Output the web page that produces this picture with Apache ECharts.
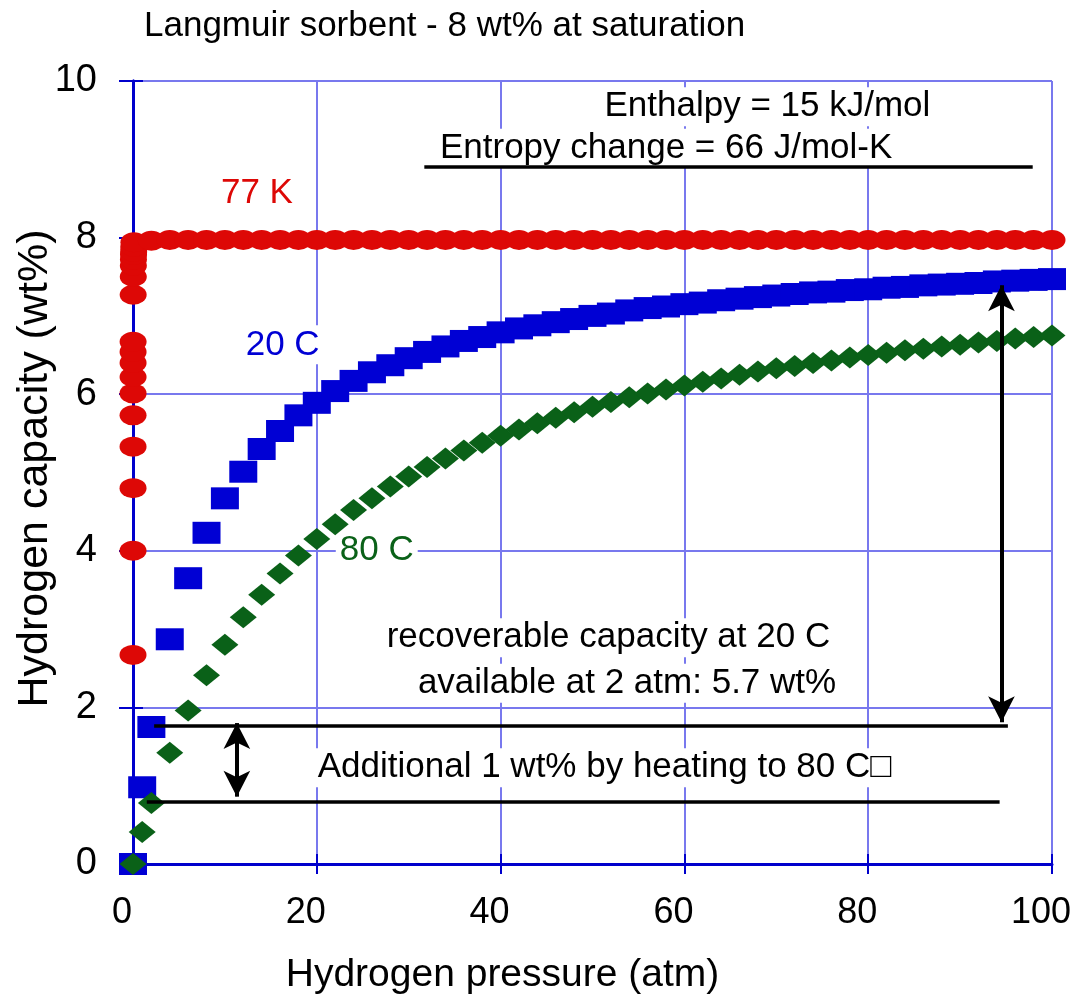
<!DOCTYPE html>
<html><head><meta charset="utf-8">
<script src="https://cdn.jsdelivr.net/npm/echarts@6/dist/echarts.min.js"></script>
<style>html,body{margin:0;padding:0;background:#fff}#c{width:1079px;height:999px}</style>
</head><body><div id="c"></div>
<script>
// ---- data ----
const pressure = [0,1,2,4,6,8,10,12,14,16,18,20,22,24,26,28,30,32,34,36,38,40,42,44,46,48,50,52,54,56,58,60,62,64,66,68,70,72,74,76,78,80,82,84,86,88,90,92,94,96,98,100];
const cap20C = [0,0.98,1.75,2.87,3.65,4.23,4.67,5.01,5.30,5.53,5.73,5.89,6.04,6.17,6.28,6.37,6.46,6.54,6.61,6.68,6.73,6.79,6.84,6.88,6.92,6.96,7.00,7.03,7.07,7.10,7.12,7.15,7.17,7.20,7.22,7.24,7.26,7.28,7.30,7.31,7.33,7.34,7.36,7.37,7.39,7.40,7.41,7.42,7.44,7.45,7.46,7.47];
const cap80C = [0,0.41,0.78,1.42,1.96,2.41,2.80,3.15,3.44,3.71,3.94,4.15,4.34,4.52,4.67,4.82,4.95,5.07,5.18,5.28,5.38,5.47,5.55,5.63,5.70,5.77,5.84,5.90,5.96,6.01,6.06,6.11,6.16,6.20,6.25,6.29,6.33,6.36,6.40,6.43,6.47,6.50,6.53,6.56,6.58,6.61,6.63,6.66,6.68,6.71,6.73,6.75];
const pressure77 = [0,0.001,0.002,0.003,0.004,0.005,0.006,0.007,0.008,0.009,0.01,0.02,0.03,0.04,0.05,0.06,0.07,0.08,0.1,2,4,6,8,10,12,14,16,18,20,22,24,26,28,30,32,34,36,38,40,42,44,46,48,50,52,54,56,58,60,62,64,66,68,70,72,74,76,78,80,82,84,86,88,90,92,94,96,98,100];
const cap77K = [0,2.67,4.00,4.80,5.33,5.73,6.01,6.22,6.40,6.54,6.67,7.27,7.50,7.64,7.72,7.78,7.82,7.88,7.94,7.96,7.97,7.97,7.97,7.97,7.97,7.97,7.97,7.97,7.97,7.97,7.97,7.97,7.97,7.97,7.97,7.97,7.97,7.97,7.97,7.97,7.97,7.97,7.97,7.97,7.97,7.97,7.97,7.97,7.97,7.97,7.97,7.97,7.97,7.97,7.97,7.97,7.97,7.97,7.97,7.97,7.97,7.97,7.97,7.97,7.97,7.97,7.97,7.97,7.97];
const xTickValues = [0,20,40,60,80,100];
const yTickValues = [0,2,4,6,8,10];
const seriesNames = ['77 K','20 C','80 C'];
const titleText = 'Langmuir sorbent - 8 wt% at saturation';
const xName = 'Hydrogen pressure (atm)';
const yName = 'Hydrogen capacity (wt%)';
// annotation geometry in data units
const guideLines = [[[31.7,8.91],[97.9,8.91]], [[2.3,1.77],[95.2,1.77]], [[1.5,0.79],[94.3,0.79]]];
const arrowLines = [[[11.3,0.86],[11.3,1.80]], [[94.5,1.81],[94.5,7.39]]];
const noteTexts = ['77 K','20 C','80 C','Enthalpy = 15 kJ/mol','Entropy change = 66 J/mol-K','recoverable capacity at 20 C','available at 2 atm: 5.7 wt%','Additional 1 wt% by heating to 80 C\u25A1'];
const noteAnchors = [[9.57,8.57],[12.26,6.63],[22.5,4.0],[51.3,9.67],[33.4,9.14],[27.6,2.89],[31.0,2.31],[20.1,1.23]];
const noteColors = ['#dd0806','#0000d4','#0a6118','#000','#000','#000','#000','#000'];

const FONT = '"Liberation Sans", Arial, Helvetica, sans-serif';
const AX = '#0000cc';
const GRIDC = '#7878ee';
const ellipse = 'path://M0,10A10,10 0 1,1 20,10A10,10 0 1,1 0,10Z';

const chart = echarts.init(document.getElementById('c'), null, {renderer:'canvas'});
const pairs = (xs, ys) => xs.map((x,i)=>[x, ys[i]]);
const toMl = (segs) => segs.map(s => [{coord:s[0]},{coord:s[1]}]);

chart.setOption({
  backgroundColor:'#fff',
  animation:false,
  title:{text:titleText,left:139,top:4,textStyle:{fontFamily:FONT,fontSize:35,fontWeight:'normal',color:'#000'}},
  grid:{left:133,right:27,top:81,bottom:135,containLabel:false,outerBoundsMode:'none'},
  xAxis:[{
    type:'value',min:xTickValues[0],max:xTickValues[xTickValues.length-1],interval:20,
    name:xName,nameLocation:'middle',nameGap:92,nameMoveOverlap:false,
    nameTextStyle:{fontFamily:FONT,fontSize:39,color:'#000',padding:[0,180,0,0]},
    axisLine:{show:true,onZero:false,lineStyle:{color:AX,width:3}},
    axisTick:{show:true,inside:true,length:10,lineStyle:{color:AX,width:2}},
    axisLabel:{fontFamily:FONT,fontSize:36,color:'#000',margin:31,padding:[0,22,0,0]},
    splitLine:{show:true,lineStyle:{color:GRIDC,width:2}}
  },{
    type:'value',position:'top',min:0,max:100,interval:20,
    axisLine:{show:true,lineStyle:{color:AX,width:2}},
    axisTick:{show:true,inside:true,length:10,lineStyle:{color:AX,width:2}},
    axisLabel:{show:false},splitLine:{show:false}
  }],
  yAxis:[{
    type:'value',min:yTickValues[0],max:yTickValues[yTickValues.length-1],interval:2,
    name:yName,nameLocation:'middle',nameGap:76,nameMoveOverlap:false,
    nameTextStyle:{fontFamily:FONT,fontSize:43,color:'#000',padding:[0,0,0,8]},
    axisLine:{show:true,onZero:false,lineStyle:{color:AX,width:3}},
    axisTick:{show:true,inside:true,length:10,lineStyle:{color:AX,width:2}},
    axisLabel:{fontFamily:FONT,fontSize:38,color:'#000',margin:36,padding:[0,0,8,0]},
    splitLine:{show:true,lineStyle:{color:GRIDC,width:2}}
  },{
    type:'value',position:'right',min:0,max:10,interval:2,
    axisLine:{show:true,lineStyle:{color:AX,width:3}},
    axisTick:{show:true,inside:true,length:14,lineStyle:{color:AX,width:2}},
    axisLabel:{show:false},splitLine:{show:false}
  }],
  series:[
    {name:seriesNames[0],type:'scatter',data:pairs(pressure77,cap77K),symbol:ellipse,symbolSize:[27,20],
     itemStyle:{color:'#dd0806',opacity:1},z:2},
    {name:seriesNames[1],type:'scatter',data:pairs(pressure,cap20C),symbol:'rect',symbolSize:[28,22],
     itemStyle:{color:'#0000d4',opacity:1},z:3},
    {name:seriesNames[2],type:'scatter',data:pairs(pressure,cap80C),symbol:'diamond',symbolSize:[27,22],
     itemStyle:{color:'#0a6118',opacity:1},z:4},
    {name:'guides',type:'line',data:[],silent:true,z:5,
     markLine:{silent:true,symbol:['none','none'],label:{show:false},animation:false,
       lineStyle:{color:'#000',width:3.5,type:'solid'},data:toMl(guideLines)}},
    {name:'arrows',type:'line',data:[],silent:true,z:6,
     markLine:{silent:true,symbol:['arrow','arrow'],symbolSize:[20,26],label:{show:false},animation:false,
       lineStyle:{color:'#000',width:4,type:'solid'},data:toMl(arrowLines)}}
  ]
});

const graphics = noteTexts.map((t,i)=>{
  const p = chart.convertToPixel({gridIndex:0}, noteAnchors[i]);
  return {type:'text',z:1,silent:true,x:p[0]-4,y:p[1],
    style:{text:t,fill:noteColors[i],fontFamily:FONT,fontSize:35,align:'left',verticalAlign:'middle',
      backgroundColor:'#fff',padding:[2,4]}};
});
chart.setOption({graphic:graphics});
</script></body></html>
